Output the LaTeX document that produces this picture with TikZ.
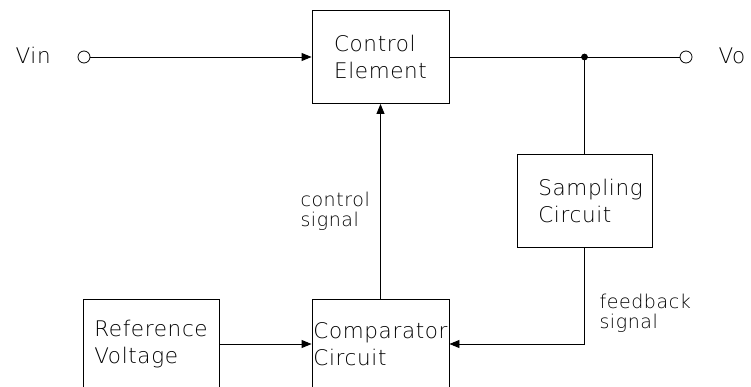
\documentclass[tikz,border=0pt]{standalone}
\usepackage{fontspec}
\newfontfamily\cadfont[LetterSpace=3]{DejaVu Sans ExtraLight}
\newfontfamily\notefont[LetterSpace=3]{DejaVu Sans ExtraLight}
\usetikzlibrary{arrows.meta,positioning,calc}

\begin{document}
\begin{tikzpicture}[x=1pt, y=-1pt, >={Triangle[length=10pt,width=8pt]},
    every node/.style={font=\cadfont\fontsize{21.5}{27}\selectfont},
    block/.style={draw, line width=0.9pt, minimum width=137pt, minimum height=93pt,
      align=left, inner sep=0pt},
    note/.style={font=\notefont\fontsize{19}{20}\selectfont, align=left, anchor=west},
    terminal/.style={draw, circle, line width=0.8pt, minimum size=12pt, inner sep=0pt},
    wire/.style={line width=0.9pt}]
  \useasboundingbox (0,0) rectangle (751,387);

  \node[block] (ctrl) at (380.5,57) {Control\\Element};
  \node[block, minimum width=135pt] (samp) at (584.5,200.5) {\hspace*{12pt}Sampling\\\hspace*{12pt}Circuit};
  \node[block, minimum height=90pt] (comp) at (380.5,344) {Comparator\\Circuit};
  \node[block, minimum width=136pt, minimum height=90pt] (ref) at (151,344) {Reference\\Voltage};

  \node[terminal] (vin) at (84,57) {};
  \node[terminal] (vo) at (686,57) {};
  \node[anchor=base west] (vinlbl) at (12,64) {Vin};
  \node[anchor=base west] (volbl) at (715,64) {Vo};
  \coordinate (j) at (584.5,57);

  \draw[wire,->] (vin) -- (ctrl.west);
  \draw[wire] (ctrl.east) -- (vo);
  \fill (j) circle (3.4pt);
  \draw[wire] (j) -- (samp.north);
  \draw[wire,->] (samp.south) |- (comp.east);
  \draw[wire,->] (comp.north) -- (ctrl.south);
  \draw[wire,->] (ref.east) -- (comp.west);

  \node[note] (ctrlsig) at (297,211) {control\\signal};
  \node[note] (fbsig) at (596,313) {feedback\\signal};
\end{tikzpicture}
\end{document}
